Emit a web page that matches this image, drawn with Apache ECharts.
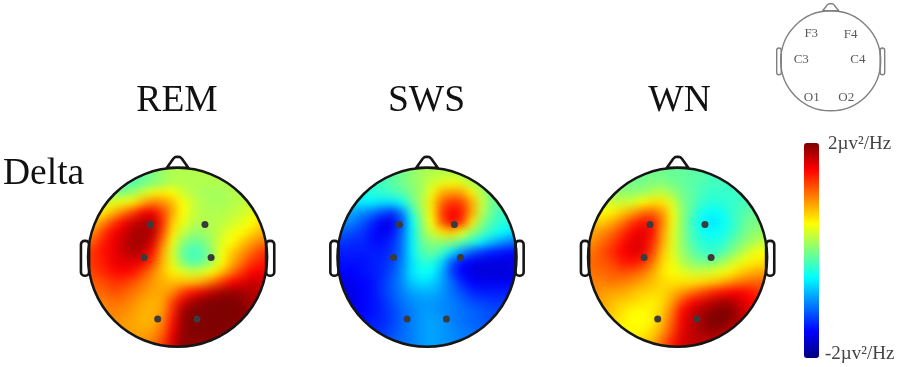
<!DOCTYPE html>
<html>
<head>
<meta charset="utf-8">
<style>html,body{margin:0;padding:0;background:#fff}#c{width:900px;height:367px}</style>
<script src="https://cdn.jsdelivr.net/npm/echarts@6/dist/echarts.min.js"></script>
</head>
<body>
<div id="c"></div>
<script>
const stageNames = ['REM', 'SWS', 'WN'];
const rowLabel = 'Delta';
const scaleLabels = ['2µv²/Hz', '-2µv²/Hz'];
const scaleMin = -2;
const scaleMax = 2;
const jetColors = ['#00007f','#0000ff','#007fff','#00ffff','#7fff7f','#ffff00','#ff7f00','#ff0000','#7f0000'];

const electrodeNames = ['F3','F4','C3','C4','O1','O2'];
const electrodeX = [-2.77, 2.75, -3.37, 3.37, -2.0, 1.95];
const electrodeY = [3.29, 3.29, -0.03, -0.03, -6.2, -6.2];
const guideLabelX = [-3.5, 3.6, -5.3, 4.9, -3.4, 2.8];
const guideLabelY = [4.9, 4.8, 0.3, 0.2, -6.7, -6.7];

const remRows = [
[-.1,-.1,-.1,-.1,-.1,-.1,0,.1,.2,.2,.2,.2,.2,.2,.2,.2,.2,.2],
[0,-.1,-.2,-.2,-.2,-.1,0,.1,.2,.2,.2,.2,.2,.2,.2,.2,.2,.2],
[.1,.1,0,0,.1,.3,.45,.55,.5,.3,.2,.15,.15,.15,.2,.2,.25,.3],
[.3,.3,.4,.45,.55,.8,1,.95,.75,.5,.3,.2,.15,.15,.2,.25,.3,.4],
[.5,.55,.75,1,1.25,1.5,1.55,1.25,.85,.5,.3,.2,.2,.2,.25,.3,.4,.5],
[.7,.95,1.25,1.5,1.7,1.8,1.8,1.35,.7,.45,.25,.2,.2,.25,.3,.4,.5,.65],
[.95,1.25,1.5,1.65,1.8,1.85,1.8,1.25,.6,.3,.1,.1,.2,.3,.45,.5,.65,.8],
[1.15,1.4,1.55,1.7,1.85,1.85,1.65,1.05,.45,.05,-.1,-.05,.15,.4,.5,.7,.9,1],
[1.3,1.45,1.55,1.7,1.8,1.75,1.45,.85,.35,-.1,-.25,-.2,.1,.45,.7,.9,1.1,1.3],
[1.3,1.4,1.55,1.6,1.6,1.55,1.25,.8,.4,0,-.2,-.1,.15,.5,.8,1.05,1.3,1.4],
[1.25,1.35,1.45,1.5,1.45,1.25,1,.75,.55,.4,.3,.35,.5,.75,1.05,1.3,1.5,1.55],
[1.15,1.2,1.3,1.3,1.2,1.05,.9,.8,.75,.75,.75,.85,1.05,1.3,1.5,1.6,1.7,1.7],
[1.1,1.1,1.2,1.15,1.05,.95,.85,.85,.95,1.25,1.45,1.6,1.75,1.85,1.9,1.85,1.8,1.7],
[1,1,1.05,1.05,.95,.85,.8,.85,1.25,1.6,1.85,1.95,2,2,2,1.95,1.85,1.8],
[.95,.95,1,.95,.9,.8,.8,.9,1.35,1.85,2,2,2,2,2,2,1.9,1.8],
[.9,.95,.95,.9,.85,.8,.8,1,1.45,1.9,2,2,2,2,2,1.95,1.9,1.8],
[.9,.9,.9,.9,.85,.85,.9,1.1,1.55,1.9,2,2,2,2,1.95,1.9,1.8,1.8],
[.9,.9,.9,.9,.9,.9,1,1.25,1.65,1.95,1.95,1.95,1.95,1.9,1.9,1.8,1.8,1.8]
];
const swsRows = [
[-.4,-.4,-.35,-.3,-.25,-.15,-.05,.05,.15,.2,.2,.2,.15,.1,.05,0,0,0],
[-.5,-.45,-.4,-.3,-.25,-.15,-.05,.05,.15,.3,.4,.45,.4,.2,.05,-.05,-.1,-.15],
[-.55,-.5,-.45,-.35,-.3,-.25,-.15,0,.15,.45,.8,.9,.85,.55,.2,-.05,-.1,-.15],
[-.6,-.6,-.55,-.55,-.6,-.6,-.45,-.1,.2,.6,1.1,1.3,1.25,.85,.3,-.05,-.15,-.2],
[-.8,-.85,-.95,-1.05,-1.2,-1.3,-1,-.35,.15,.55,1.25,1.5,1.4,.85,.25,-.1,-.25,-.3],
[-.95,-1,-1.15,-1.35,-1.55,-1.6,-1.2,-.5,.05,.5,1.15,1.55,1.3,.6,.05,-.2,-.35,-.4],
[-1.15,-1.2,-1.3,-1.45,-1.55,-1.45,-1.1,-.55,0,.3,.6,.7,.45,.1,-.15,-.35,-.5,-.6],
[-1.3,-1.35,-1.35,-1.45,-1.45,-1.35,-1.05,-.55,-.1,.05,.05,.05,-.15,-.35,-.55,-.75,-.9,-1.05],
[-1.4,-1.4,-1.4,-1.4,-1.4,-1.3,-1.05,-.55,-.2,-.1,-.25,-.6,-.9,-1.15,-1.3,-1.4,-1.45,-1.5],
[-1.45,-1.45,-1.45,-1.4,-1.35,-1.25,-1,-.6,-.35,-.35,-.65,-1.15,-1.45,-1.55,-1.6,-1.6,-1.6,-1.6],
[-1.5,-1.5,-1.45,-1.4,-1.35,-1.2,-.95,-.6,-.45,-.5,-.8,-1.25,-1.5,-1.6,-1.65,-1.65,-1.65,-1.65],
[-1.6,-1.55,-1.5,-1.45,-1.3,-1.15,-.95,-.7,-.6,-.65,-.85,-1.1,-1.35,-1.5,-1.55,-1.55,-1.55,-1.55],
[-1.6,-1.6,-1.5,-1.45,-1.3,-1.15,-1,-.85,-.8,-.8,-.9,-1.05,-1.2,-1.35,-1.4,-1.4,-1.4,-1.4],
[-1.6,-1.6,-1.5,-1.45,-1.35,-1.2,-1.05,-.95,-.9,-.9,-.95,-1,-1.1,-1.2,-1.25,-1.3,-1.3,-1.3],
[-1.6,-1.55,-1.5,-1.45,-1.35,-1.25,-1.1,-1,-.9,-.9,-.95,-1,-1.05,-1.1,-1.15,-1.2,-1.2,-1.2],
[-1.5,-1.5,-1.45,-1.4,-1.35,-1.25,-1.1,-1,-.9,-.85,-.9,-1,-1.05,-1.1,-1.15,-1.2,-1.2,-1.2],
[-1.4,-1.4,-1.4,-1.35,-1.3,-1.2,-1.1,-1,-.9,-.85,-.9,-.95,-1,-1.05,-1.1,-1.1,-1.1,-1.1],
[-1.3,-1.3,-1.3,-1.25,-1.2,-1.15,-1.05,-1,-.9,-.85,-.9,-.95,-1,-1,-1,-1,-1,-1]
];
const wnRows = [
[-.05,-.05,-.05,-.05,-.05,-.05,-.05,-.05,-.1,-.1,-.15,-.15,-.2,-.2,-.2,-.2,-.2,-.2],
[.1,.05,0,0,-.05,-.05,0,0,-.05,-.1,-.15,-.2,-.25,-.25,-.25,-.25,-.2,-.2],
[.2,.15,.1,.05,.05,.1,.2,.25,.1,-.05,-.15,-.25,-.3,-.3,-.3,-.25,-.2,-.2],
[.4,.35,.3,.3,.35,.5,.6,.6,.35,0,-.15,-.3,-.35,-.35,-.3,-.25,-.2,-.15],
[.55,.5,.55,.7,.85,1.05,1.1,.9,.45,.05,-.2,-.45,-.5,-.45,-.3,-.2,-.1,-.05],
[.7,.7,.85,1.05,1.3,1.45,1.4,1,.45,.05,-.3,-.5,-.6,-.5,-.35,-.15,-.05,0],
[.85,.95,1.1,1.3,1.5,1.6,1.45,.9,.4,.05,-.25,-.45,-.5,-.45,-.3,-.1,.05,.1],
[.95,1.1,1.25,1.45,1.6,1.6,1.35,.85,.4,.05,-.2,-.35,-.4,-.35,-.15,0,.15,.25],
[1.05,1.2,1.35,1.5,1.6,1.6,1.25,.75,.4,.1,-.1,-.25,-.3,-.2,0,.2,.4,.5],
[1.1,1.15,1.25,1.4,1.45,1.35,1.05,.65,.45,.2,.05,-.05,0,.1,.3,.45,.55,.6],
[1.05,1.1,1.15,1.2,1.15,1.05,.85,.6,.5,.4,.3,.3,.35,.45,.55,.7,.8,.85],
[1,1,1.05,1,.95,.85,.75,.65,.6,.6,.6,.65,.7,.8,.95,1.05,1.1,1.1],
[.95,.9,.85,.85,.75,.7,.65,.65,.75,.9,1.05,1.2,1.35,1.45,1.5,1.5,1.4,1.3],
[.9,.85,.75,.7,.65,.6,.55,.65,.9,1.25,1.5,1.65,1.75,1.85,1.8,1.65,1.5,1.4],
[.85,.8,.7,.6,.5,.5,.55,.7,1.05,1.5,1.7,1.85,1.95,2,1.95,1.75,1.5,1.4],
[.8,.7,.65,.55,.5,.5,.55,.8,1.15,1.55,1.75,1.9,2,2,1.9,1.75,1.5,1.4],
[.75,.7,.6,.55,.5,.55,.65,.9,1.25,1.6,1.75,1.85,1.9,1.85,1.75,1.55,1.4,1.4],
[.7,.65,.6,.6,.6,.65,.8,1.1,1.4,1.65,1.75,1.75,1.75,1.7,1.6,1.5,1.4,1.4]
];
const stageRows = [remRows, swsRows, wnRows];

// layout
const SERIF = '"Liberation Serif","Times New Roman",serif';
const headCx = [177.6, 427, 677.6];
const headCy = 257.3;
const unitPx = 89.5 / 9;          // one axis unit = one heatmap cell
const halfGrid = 10 * unitPx;

const chart = echarts.init(document.getElementById('c'), null, {renderer: 'canvas'});

// one-cell edge padding so the soft edge of the field stays outside the head
function padded(rows) {
  const n = rows.length;
  const out = [];
  for (let r = -1; r <= n; r++) {
    const row = rows[Math.max(0, Math.min(n - 1, r))];
    for (let c = -1; c <= n; c++) {
      out.push([c + 1, r + 1, row[Math.max(0, Math.min(n - 1, c))]]);
    }
  }
  return out;
}

function headRender(color, lineW, mask, earHalf, noseW, noseTop) {
  return function (params, api) {
    const o = api.coord([0, 0]);
    const u = api.size([1, 0])[0];
    const R = 9 * u;
    const P = (x, y) => [o[0] + x * u, o[1] - y * u];
    const style = {stroke: color, lineWidth: lineW, fill: '#fff', lineJoin: 'round'};
    const ch = [];
    if (mask) ch.push({type: 'ring', shape: {cx: o[0], cy: o[1], r: 15 * u, r0: R}, style: {fill: '#fff'}});
    const earW = 0.82 * u;
    ch.push({type: 'rect', shape: {x: o[0] - 8.9 * u - earW, y: o[1] - earHalf * u, width: earW, height: (2 * earHalf + .2) * u, r: 3.5}, style});
    ch.push({type: 'rect', shape: {x: o[0] + 8.9 * u, y: o[1] - earHalf * u, width: earW, height: (2 * earHalf + .2) * u, r: 3.5}, style});
    ch.push({type: 'polygon', shape: {points: [P(-noseW, 9.0), P(-.42 * noseW, 9 + .8 * noseTop), P(-.22 * noseW, 9 + .97 * noseTop), P(0, 9 + noseTop), P(.22 * noseW, 9 + .97 * noseTop), P(.42 * noseW, 9 + .8 * noseTop), P(noseW, 9.0)]}, style});
    ch.push({type: 'circle', shape: {cx: o[0], cy: o[1], r: R}, style: {stroke: color, lineWidth: lineW, fill: 'none'}});
    return {type: 'group', children: ch};
  };
}

const grid = [], xAxis = [], yAxis = [], series = [];
const cats = Array.from({length: 20}, (_, i) => String(i));

headCx.forEach((cx, i) => {
  grid.push({left: cx - halfGrid, top: headCy - halfGrid, width: 2 * halfGrid, height: 2 * halfGrid, containLabel: false});
  xAxis.push({gridIndex: i, type: 'category', data: cats, show: false});
  yAxis.push({gridIndex: i, type: 'category', data: cats, show: false, inverse: true});
  xAxis.push({gridIndex: i, type: 'value', min: -10, max: 10, show: false});
  yAxis.push({gridIndex: i, type: 'value', min: -10, max: 10, show: false});
  series.push({
    name: stageNames[i], type: 'heatmap', xAxisIndex: 2 * i, yAxisIndex: 2 * i,
    data: padded(stageRows[i]), zlevel: 0, progressive: 0, silent: true
  });
  series.push({
    type: 'custom', xAxisIndex: 2 * i + 1, yAxisIndex: 2 * i + 1, zlevel: 1, z: 3, silent: true, clip: false,
    data: [[0, 0]], renderItem: headRender('#161616', 2.6, true, 1.65, 1.08, 1.12)
  });
  series.push({
    name: stageNames[i] + ' electrodes', type: 'scatter', xAxisIndex: 2 * i + 1, yAxisIndex: 2 * i + 1, zlevel: 1, z: 5, silent: true,
    symbolSize: 7, itemStyle: {color: '#3b3b3b', opacity: 1},
    data: electrodeX.map((x, k) => [x, electrodeY[k]])
  });
});

// small electrode guide
const guideCx = 830.7, guideCy = 60.5, guideU = 50 / 9, guideHalf = 11 * guideU;
grid.push({left: guideCx - guideHalf, top: guideCy - guideHalf, width: 2 * guideHalf, height: 2 * guideHalf});
xAxis.push({gridIndex: 3, type: 'value', min: -11, max: 11, show: false});
yAxis.push({gridIndex: 3, type: 'value', min: -11, max: 11, show: false});
series.push({
  type: 'custom', xAxisIndex: 6, yAxisIndex: 6, zlevel: 1, z: 3, silent: true, clip: false,
  data: [[0, 0]], renderItem: headRender('#808080', 1.4, false, 2.3, 1.45, 1.3)
});
series.push({
  name: 'electrode guide', type: 'scatter', xAxisIndex: 6, yAxisIndex: 6, zlevel: 1, z: 5, silent: true,
  symbolSize: 1, itemStyle: {color: 'rgba(0,0,0,0)'},
  label: {show: true, position: 'inside', color: '#2e2e2e', fontFamily: SERIF, fontSize: 13,
    formatter: p => electrodeNames[p.dataIndex]},
  data: guideLabelX.map((x, k) => [x, guideLabelY[k]])
});

const heatmapIdx = [0, 3, 6];
const texts = [
  {text: stageNames[0], x: 177, y: 101, size: 37.5, align: 'center', color: '#111'},
  {text: stageNames[1], x: 426.5, y: 101, size: 37.5, align: 'center', color: '#111'},
  {text: stageNames[2], x: 679.5, y: 101, size: 37.5, align: 'center', color: '#111'},
  {text: rowLabel, x: 3, y: 174, size: 37.5, align: 'left', color: '#111'},
  {text: scaleLabels[0], x: 828, y: 144, size: 19, align: 'left', color: '#444'},
  {text: scaleLabels[1], x: 825, y: 354, size: 19, align: 'left', color: '#444'}
];

chart.setOption({
  animation: false,
  grid, xAxis, yAxis, series,
  visualMap: {
    type: 'continuous', min: scaleMin, max: scaleMax, seriesIndex: heatmapIdx, calculable: false,
    orient: 'vertical', left: 804, top: 143, itemWidth: 15, itemHeight: 215, padding: 0, zlevel: 1,
    text: null, showLabel: false, realtime: false, hoverLink: false,
    inRange: {color: jetColors}
  },
  graphic: {elements: texts.map(t => ({
    type: 'text', zlevel: 1, z: 20, silent: true, x: t.x, y: t.y,
    style: {text: t.text, fontFamily: SERIF, fontSize: t.size, fill: t.color, align: t.align, verticalAlign: 'middle'}
  }))}
});

// soften the cell field only (heatmap sits alone on layer 0)
const layer0 = document.querySelector('canvas[data-zr-dom-id="zr_0"]');
if (layer0) layer0.style.filter = 'blur(4px)';
</script>
</body>
</html>
